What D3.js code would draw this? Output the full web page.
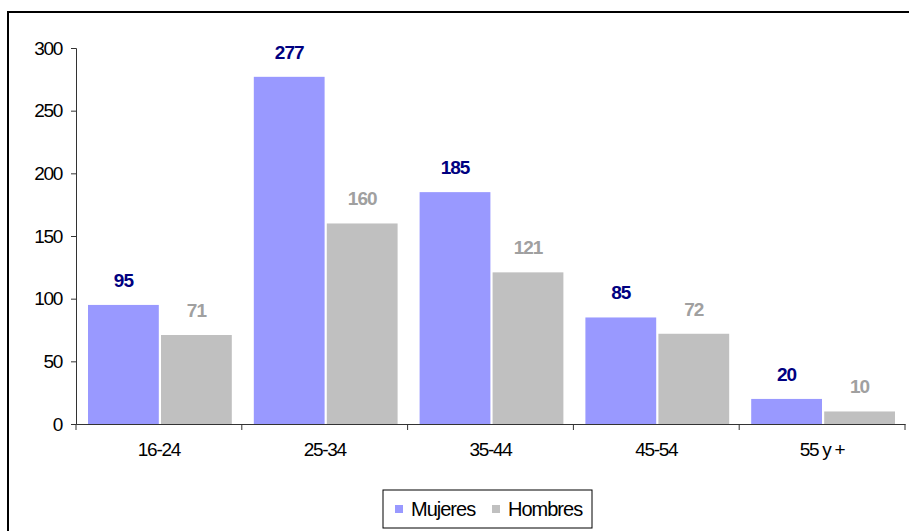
<!DOCTYPE html>
<html>
<head>
<meta charset="utf-8">
<script src="https://cdn.jsdelivr.net/npm/d3@7"></script>
<style>
  body { margin: 0; background: #fff; }
  text { font-family: "Liberation Sans", Arial, sans-serif; }
</style>
</head>
<body>
<div id="chart"></div>
<script>
// data
var categories = ["16-24", "25-34", "35-44", "45-54", "55 y +"];
var mujeres = [95, 277, 185, 85, 20];
var hombres = [71, 160, 121, 72, 10];
var seriesNames = ["Mujeres", "Hombres"];
var yTicks = [0, 50, 100, 150, 200, 250, 300];

var W = 909, H = 531;
var margin = {top: 48, right: 4, bottom: 107, left: 76},
    width = W - margin.left - margin.right,
    height = H - margin.top - margin.bottom;

var svg = d3.select("#chart").append("svg")
    .attr("width", W)
    .attr("height", H);

// outer frame (right and bottom are cut off in the picture)
svg.append("rect")
    .attr("x", 8).attr("y", 12)
    .attr("width", W + 20).attr("height", H + 20)
    .attr("fill", "none")
    .attr("stroke", "#000")
    .attr("stroke-width", 2);

var g = svg.append("g")
    .attr("transform", "translate(" + margin.left + "," + margin.top + ")");

var x = d3.scaleBand().domain(categories).range([0, width]).paddingInner(0).paddingOuter(0);
var x1 = d3.scaleBand().domain(seriesNames).range([12, x.bandwidth() - 10]).paddingInner(0.03);
var y = d3.scaleLinear().domain([0, 300]).range([height, 0]);

var colors = {Mujeres: "#9999FF", Hombres: "#C0C0C0"};
var labelColors = {Mujeres: "#000080", Hombres: "#A0A0A0"};

var rows = categories.map(function(c, i) {
  return {cat: c, values: [{s: "Mujeres", v: mujeres[i]}, {s: "Hombres", v: hombres[i]}]};
});

var groups = g.selectAll(".grp").data(rows).enter().append("g")
    .attr("transform", function(d) { return "translate(" + x(d.cat) + ",0)"; });

groups.selectAll("rect").data(function(d) { return d.values; }).enter().append("rect")
    .attr("x", function(d) { return x1(d.s); })
    .attr("y", function(d) { return y(d.v); })
    .attr("width", x1.bandwidth())
    .attr("height", function(d) { return height - y(d.v); })
    .attr("fill", function(d) { return colors[d.s]; });

groups.selectAll(".lbl").data(function(d) { return d.values; }).enter().append("text")
    .attr("x", function(d) { return x1(d.s) + x1.bandwidth() / 2; })
    .attr("y", function(d) { return y(d.v) - 18; })
    .attr("text-anchor", "middle")
    .style("font-size", "19px")
    .style("font-weight", "bold")
    .style("letter-spacing", "-1px")
    .attr("fill", function(d) { return labelColors[d.s]; })
    .text(function(d) { return d.v; });

// y axis
var yAxis = g.append("g")
    .call(d3.axisLeft(y).tickValues(yTicks).tickSize(5).tickPadding(9));
yAxis.select(".domain").attr("stroke", "#333");
yAxis.selectAll(".tick line").attr("stroke", "#333");
yAxis.selectAll("text").style("font-size", "19px").style("letter-spacing", "-1.3px").attr("fill", "#000");

// x axis with ticks on category boundaries
var xAxis = g.append("g")
    .attr("transform", "translate(0," + height + ")")
    .call(d3.axisBottom(x).tickSize(0).tickPadding(19).tickSizeOuter(0));
xAxis.select(".domain").attr("stroke", "#333");
xAxis.selectAll("text").style("font-size", "19px").style("letter-spacing", "-1.3px").attr("fill", "#000");
xAxis.selectAll(".bound").data(d3.range(categories.length + 1)).enter().append("line")
    .attr("x1", function(i) { return i * x.step(); })
    .attr("x2", function(i) { return i * x.step(); })
    .attr("y1", 0).attr("y2", 6)
    .attr("stroke", "#333");

// legend
var leg = svg.append("g").attr("transform", "translate(383,490)");
leg.append("rect").attr("width", 209).attr("height", 38)
    .attr("fill", "#fff").attr("stroke", "#000").attr("stroke-width", 1);
var legX = [12, 109];
seriesNames.forEach(function(s, i) {
  leg.append("rect").attr("x", legX[i]).attr("y", 15).attr("width", 8).attr("height", 8)
      .attr("fill", colors[s]);
  leg.append("text").attr("x", legX[i] + 16).attr("y", 26)
      .style("font-size", "20px").style("letter-spacing", "-1px")
      .text(s);
});
</script>
</body>
</html>
